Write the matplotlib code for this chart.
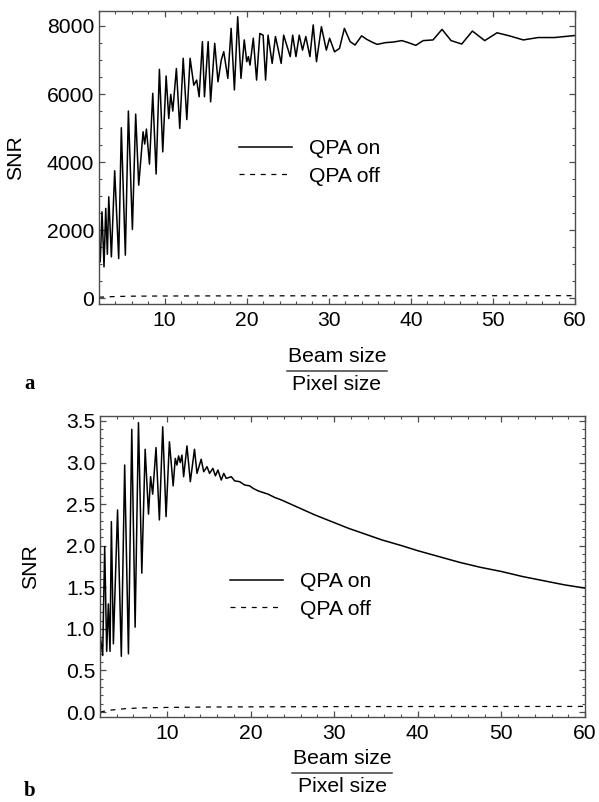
import matplotlib
matplotlib.use("Agg")
import matplotlib.pyplot as plt
from matplotlib.lines import Line2D
from matplotlib.ticker import MultipleLocator

################################################################
# data read off the reference
# panel a
x_on_a = [2.0, 2.15, 2.37, 2.61, 2.82, 3.02, 3.19, 3.51, 3.91, 4.40, 4.72, 5.21,
          5.58, 6.07, 6.47, 6.84, 7.37, 7.57, 7.78, 8.15, 8.55, 8.96, 9.36, 9.77,
          10.18, 10.5, 10.74, 10.99, 11.43, 11.84, 12.26, 12.7, 13.1, 13.55, 13.9,
          14.2, 14.6, 14.85, 15.3, 15.6, 16.1, 16.5, 16.9, 17.2, 17.7, 18.1, 18.5,
          18.9, 19.3, 19.7, 20.0, 20.2, 20.4, 20.8, 21.2, 21.6, 22.0, 22.3, 22.6,
          23.1, 23.5, 24.2, 24.5, 25.3, 25.6, 26.0, 26.4, 26.8, 27.2, 27.7, 28.1,
          28.5, 29.1, 29.7, 30.1, 30.7, 31.3, 31.9, 32.6, 33.2, 34.0, 34.6, 35.4,
          35.9, 36.9, 37.9, 38.9, 39.7, 40.6, 41.5, 42.7, 43.8, 44.9, 46.2, 47.5,
          49.0, 50.5, 52.0, 53.7, 55.5, 57.5, 60.0]
snr_on_a = [1400, 1070, 2540, 920, 2640, 1290, 2980, 1215, 3745, 1165, 5010, 1265,
            5500, 2020, 5410, 3320, 4890, 4530, 4970, 3940, 6020, 3650, 6725, 4300,
            6530, 5280, 5990, 5500, 6750, 4990, 7050, 5250, 7050, 6260, 6410,
            5920, 7540, 5920, 7540, 5770, 7490, 6360, 7000, 7245, 6460, 7930, 6120,
            8270, 6460, 7590, 6950, 7100, 6850, 7640, 6410, 7780, 7730, 6410, 7730,
            6900, 7690, 6900, 7730, 7100, 7730, 7100, 7730, 7290, 7690, 7100, 8030,
            6950, 7980, 7290, 7640, 7240, 7340, 7930, 7540, 7440, 7710, 7610, 7510,
            7460, 7510, 7530, 7570, 7510, 7430, 7570, 7590, 7900, 7570, 7470, 7850,
            7570, 7800, 7710, 7590, 7660, 7660, 7720]
x_off_a = [2, 3, 4, 6, 10, 20, 40, 60]
snr_off_a = [30, 40, 50, 60, 65, 70, 72, 75]

# panel b
x_on_b = [2.0, 2.32, 2.56, 2.8, 3.0, 3.2, 3.36, 3.6, 4.1, 4.55, 4.95, 5.4, 5.8,
          6.2, 6.6, 7.0, 7.4, 7.8, 8.05, 8.3, 8.7, 9.1, 9.5, 9.9, 10.3, 10.75,
          11.0, 11.2, 11.4, 11.6, 11.8, 12.0, 12.4, 12.8, 13.3, 13.6, 14.1, 14.4,
          14.8, 15.1, 15.5, 15.8, 16.1, 16.5, 16.8, 17.1, 17.7, 18.1, 18.7, 19.3,
          19.9, 20.3, 20.9, 21.5, 22.1, 22.9, 23.7, 25.7, 27.7, 29.7, 31.7, 33.7,
          35.7, 38.1, 40, 42.5, 45, 47.5, 50, 52.5, 55, 57.5, 60]
snr_on_b = [0.94, 0.68, 1.99, 0.73, 1.30, 0.73, 2.29, 0.82, 2.43, 0.67, 2.97, 0.70,
            3.40, 1.02, 3.48, 1.67, 3.16, 2.38, 2.83, 2.62, 3.18, 2.31, 3.43, 2.35,
            3.25, 2.72, 3.05, 2.97, 3.08, 3.0, 3.09, 2.83, 3.20, 2.77, 3.16, 2.87,
            3.04, 2.89, 2.95, 2.87, 2.93, 2.84, 2.91, 2.79, 2.87, 2.81, 2.83, 2.78,
            2.77, 2.73, 2.72, 2.69, 2.66, 2.64, 2.62, 2.58, 2.55, 2.46, 2.37, 2.29,
            2.21, 2.14, 2.07, 2.0, 1.94, 1.87, 1.80, 1.74, 1.69, 1.63, 1.58, 1.53,
            1.49]
x_off_b = [2, 2.5, 3, 4, 5, 7, 10, 15, 20, 30, 40, 60]
snr_off_b = [0.0, 0.01, 0.02, 0.03, 0.04, 0.05, 0.055, 0.06, 0.062, 0.065, 0.066, 0.067]

labels = ["QPA on", "QPA off"]
################################################################

plt.rcParams["font.family"] = ["Liberation Sans", "DejaVu Sans"]
FRAME = "0.3"
FS = 15.2
W, H = 599, 802


def style_axes(ax, ymajor, yminor):
    for s in ax.spines.values():
        s.set_color(FRAME)
        s.set_linewidth(1.0)
    ax.xaxis.set_major_locator(MultipleLocator(10))
    ax.xaxis.set_minor_locator(MultipleLocator(2))
    ax.yaxis.set_major_locator(MultipleLocator(ymajor))
    ax.yaxis.set_minor_locator(MultipleLocator(yminor))
    ax.tick_params(which="both", direction="in", top=True, right=True,
                   color=FRAME, labelsize=FS)
    ax.tick_params(axis="x", pad=5)
    ax.tick_params(axis="y", pad=3.5)
    ax.tick_params(which="major", length=4.5, width=0.9)
    ax.tick_params(which="minor", length=2.5, width=0.8)


def frac_label(xc, y_top):
    # "Beam size / Pixel size" written as a fraction (pixel coords)
    fig.text(xc / W, 1 - y_top / H, "Beam size", ha="center", va="center", fontsize=FS)
    fig.add_artist(Line2D([(xc - 50) / W, (xc + 50) / W],
                          [1 - (y_top + 15) / H, 1 - (y_top + 15) / H],
                          transform=fig.transFigure, color="0.25", lw=1.1))
    fig.text(xc / W, 1 - (y_top + 29) / H, "Pixel size", ha="center", va="center", fontsize=FS)


fig = plt.figure(figsize=(5.99, 8.02), dpi=100)

# panel a
ax1 = fig.add_axes([99 / W, 1 - 304 / H, (575 - 99) / W, (304 - 11) / H])
ax1.plot(x_on_a, snr_on_a, color="black", lw=1.1, label=labels[0])
ax1.plot(x_off_a, snr_off_a, color="black", lw=0.9, ls=(0, (4, 4.5)), label=labels[1])
ax1.set_xlim(2, 60)
ax1.set_ylim(-170, 8440)
style_axes(ax1, 2000, 500)
ax1.set_ylabel("SNR", fontsize=FS)
ax1.yaxis.set_label_coords((25 - 99) / (575 - 99), 0.5)
ax1.legend(loc="upper left", bbox_to_anchor=(239 / W, 1 - 139 / H),
           bbox_transform=fig.transFigure, frameon=False, fontsize=FS,
           handlelength=2.5, handletextpad=0.8, borderpad=0, borderaxespad=0,
           labelspacing=0.42)
frac_label(337, 356)
fig.text(30 / W, 1 - 384 / H, "a", family="Liberation Serif", weight="bold",
         fontsize=15, ha="center", va="center")

# panel b
ax2 = fig.add_axes([100 / W, 1 - 717 / H, (585 - 100) / W, (717 - 416) / H])
ax2.plot(x_on_b, snr_on_b, color="black", lw=1.1, label=labels[0])
ax2.plot(x_off_b, snr_off_b, color="black", lw=0.9, ls=(0, (4, 4.5)), label=labels[1])
ax2.set_xlim(2, 60)
ax2.set_ylim(-0.06, 3.56)
style_axes(ax2, 0.5, 0.1)
ax2.yaxis.set_major_formatter(lambda v, p: f"{v:.1f}")
ax2.set_ylabel("SNR", fontsize=FS)
ax2.yaxis.set_label_coords((40 - 100) / (585 - 100), 0.5)
ax2.legend(loc="upper left", bbox_to_anchor=(230 / W, 1 - 572 / H),
           bbox_transform=fig.transFigure, frameon=False, fontsize=FS,
           handlelength=2.5, handletextpad=0.8, borderpad=0, borderaxespad=0,
           labelspacing=0.42)
frac_label(342, 758)
fig.text(30 / W, 1 - 791 / H, "b", family="Liberation Serif", weight="bold",
         fontsize=15, ha="center", va="center")

fig.savefig("out.png", dpi=100)
